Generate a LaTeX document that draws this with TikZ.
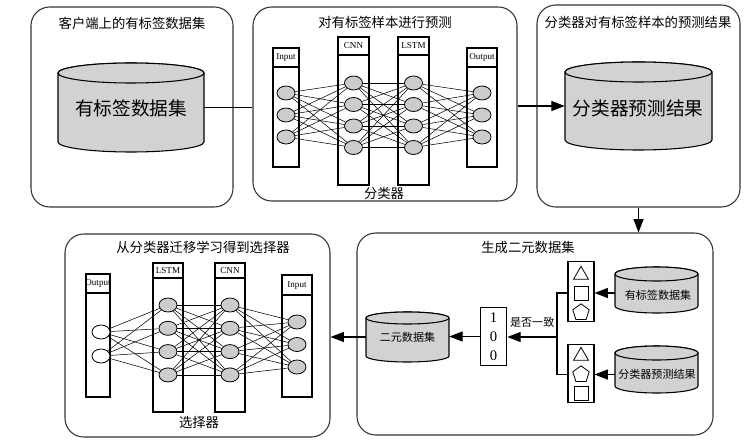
\documentclass[tikz,border=0pt]{standalone}
\usepackage{fontspec}
\setmainfont{Liberation Serif}
\newfontfamily\cjk{Noto Sans CJK SC}
\usetikzlibrary{arrows.meta,fit,shapes.geometric}

\tikzset{
  panel/.style={draw=black!80, line width=0.8pt, rounded corners=14pt, inner sep=0pt},
  title/.style={font=\cjk\fontsize{10}{12}\selectfont, inner sep=0pt},
  bigtxt/.style={font=\cjk\fontsize{14}{16}\selectfont, inner sep=0pt},
  smalltxt/.style={font=\cjk\fontsize{8.3}{10}\selectfont, inner sep=0pt},
  layerbox/.style={draw, line width=0.9pt, inner sep=0pt},
  laytxt/.style={font=\fontsize{6.8}{7}\selectfont, inner sep=0pt},
  neuron/.style={ellipse, draw, line width=0.6pt, fill=gray!40, minimum width=13.5pt, minimum height=10.5pt, inner sep=0pt},
  outneuron/.style={neuron, fill=white},
  link/.style={line width=0.4pt},
  cylfill/.style={draw, line width=0.8pt, fill=gray!35},
  arr/.style={line width=0.8pt, -{Triangle[length=10pt,width=7.5pt]}},
  tri/.style={regular polygon, regular polygon sides=3, draw, line width=0.6pt, minimum size=13pt, inner sep=0pt},
  sqr/.style={rectangle, draw, line width=0.6pt, minimum size=10.5pt, inner sep=0pt},
  pent/.style={regular polygon, regular polygon sides=5, draw, line width=0.6pt, minimum size=13pt, inner sep=0pt},
}

% cylinder: name, x left, x right, y top centre, y bottom centre, y radius (px)
\newcommand{\dbcyl}[6]{%
  \pgfmathsetmacro\cylrx{(#3-#2)*0.375}
  \pgfmathsetmacro\cylry{#6*0.75}
  \path[cylfill] (#2,#4) -- (#2,#5) arc[start angle=180, end angle=360, x radius=\cylrx pt, y radius=\cylry pt]
    -- (#3,#4) arc[start angle=0, end angle=180, x radius=\cylrx pt, y radius=\cylry pt] -- cycle;
  \path[cylfill] ({(#2+#3)/2},#4) ellipse[x radius=\cylrx pt, y radius=\cylry pt];
  \node[fit={(#2,#4) (#3,#5)}, inner sep=0pt] (#1) {};
}
% layer box: name, x left, x right, y top, y header, y bottom, label
\newcommand{\nnlayer}[7]{%
  \node[layerbox, fit={(#2,#4) (#3,#6)}] (#1) {};
  \draw[line width=0.9pt] (#2,#5) -- (#3,#5);
  \node[laytxt] (#1t) at ({(#2+#3)/2},{(#4+#5)/2}) {#7};
}

\begin{document}
\begin{tikzpicture}[x=0.75pt, y=-0.75pt]
  \useasboundingbox (0,0) rectangle (755,445);

  % labelled data on the client
  \node[panel, fit={(31,7) (233,207)}] (client) {};
  \node[title] (clientt) at (132,23) {客户端上的有标签数据集};
  \dbcyl{clientdb}{58}{204}{73}{142}{10}
  \node[bigtxt] (clientdbt) at (131,108) {有标签数据集};

  % classifier
  \node[panel, fit={(253,7) (517,201)}] (predict) {};
  \node[title] (predictt) at (385,22) {对有标签样本进行预测};
  \nnlayer{ain}{273}{299}{48}{67}{167}{Input}
  \nnlayer{acnn}{338}{369}{37}{55}{185}{CNN}
  \nnlayer{alstm}{398}{429}{37}{55}{185}{LSTM}
  \nnlayer{aout}{467}{497}{48}{67}{167}{Output}
  \foreach \i/\y in {1/93,2/115,3/137} {
    \node[neuron] (ai\i) at (286,\y) {};
    \node[neuron] (ao\i) at (482,\y) {};
  }
  \foreach \i in {1,...,4} {
    \node[neuron] (ac\i) at (353.5,{83+21.5*(\i-1)}) {};
    \node[neuron] (al\i) at (413.5,{83+21.5*(\i-1)}) {};
  }
  \foreach \j in {1,...,4} {
    \foreach \i in {1,2,3} {
      \draw[link] (ai\i) -- (ac\j);
      \draw[link] (al\j) -- (ao\i);
    }
    \foreach \k in {1,...,4}
      \draw[link] (ac\j) -- (al\k);
  }
  \node[title] (clf) at (384,193) {分类器};

  % prediction results
  \node[panel, fit={(537,5) (740,207)}] (result) {};
  \node[title] (resultt) at (638,22) {分类器对有标签样本的预测结果};
  \dbcyl{resdb}{565}{712}{72}{140}{10}
  \node[bigtxt] (resdbt) at (638,108) {分类器预测结果};

  % binary data set
  \node[panel, fit={(357,233) (713,435)}] (gen) {};
  \node[title] (gent) at (528,247) {生成二元数据集};
  \dbcyl{labdb}{615}{698}{274}{306}{7}
  \node[smalltxt] (labdbt) at (658,295) {有标签数据集};
  \dbcyl{preddb}{615}{698}{353}{386}{7}
  \node[smalltxt] (preddbt) at (657,374) {分类器预测结果};
  \node[draw, line width=0.8pt, minimum width=19.5pt, minimum height=44.5pt, inner sep=0pt] (boxa) at (581,291.5) {};
  \node[tri] (tria) at (581,275) {};
  \node[sqr] (sqra) at (581,293) {};
  \node[pent] (penta) at (581,312.5) {};
  \node[draw, line width=0.8pt, minimum width=19.5pt, minimum height=43pt, inner sep=0pt] (boxb) at (581,373.5) {};
  \node[tri] (trib) at (581,356) {};
  \node[pent] (pentb) at (581,374.5) {};
  \node[sqr] (sqrb) at (581,393) {};
  \draw[arr] (sqra -| labdb.west) -- (sqra -| boxa.east);
  \draw[arr] (pentb -| preddb.west) -- (pentb -| boxb.east);
  \coordinate (jn) at (557,337);
  \draw[line width=0.8pt] (boxa.west |- sqra) -| (jn) |- (boxb.west |- pentb);
  \node[draw, line width=0.8pt, minimum width=20pt, minimum height=44pt, inner sep=0pt,
        align=center, font=\fontsize{11}{14.2}\selectfont] (bin) at (493.5,336.5) {1\\0\\0};
  \draw[arr] (jn) -- (jn -| bin.east) node[smalltxt, midway, above=7pt] (agree) {是否一致};
  \dbcyl{bindb}{366}{449}{318}{356}{6}
  \node[smalltxt] (bindbt) at (407.5,337) {二元数据集};
  \draw[arr] (bin.west) -- (bin.west -| bindb.east);

  % selector
  \node[panel, fit={(65,234) (330,437)}] (select) {};
  \node[title] (selectt) at (203,247) {从分类器迁移学习得到选择器};
  \nnlayer{bout}{86}{110}{274}{293}{397}{Output}
  \nnlayer{blstm}{153}{183}{263}{278}{412}{LSTM}
  \nnlayer{bcnn}{215}{245}{263}{278}{412}{CNN}
  \nnlayer{binp}{282}{312}{275}{295}{397}{Input}
  \foreach \i/\y in {1/332,2/356}
    \node[outneuron] (bo\i) at (101,\y) {};
  \foreach \i in {1,...,4} {
    \node[neuron] (bl\i) at (168,{305+23.3*(\i-1)}) {};
    \node[neuron] (bc\i) at (230,{305+23.3*(\i-1)}) {};
  }
  \foreach \i/\y in {1/322,2/344.5,3/367}
    \node[neuron] (bi\i) at (297,\y) {};
  \foreach \j in {1,...,4} {
    \foreach \i in {1,2}
      \draw[link] (bo\i) -- (bl\j);
    \foreach \k in {1,...,4}
      \draw[link] (bl\j) -- (bc\k);
    \foreach \i in {1,2,3}
      \draw[link] (bc\j) -- (bi\i);
  }
  \node[title] (sel) at (199,422) {选择器};

  % flow between panels
  \draw[line width=0.8pt] (clientdb.east) -- (clientdb.east -| predict.west);
  \draw[arr] (predict.east |- resdb.west) -- (resdb.west);
  \draw[arr] (result.south) -- (result.south |- gen.north);
  \draw[arr] (bindb.west) -- (bindb.west -| select.east);
\end{tikzpicture}
\end{document}
